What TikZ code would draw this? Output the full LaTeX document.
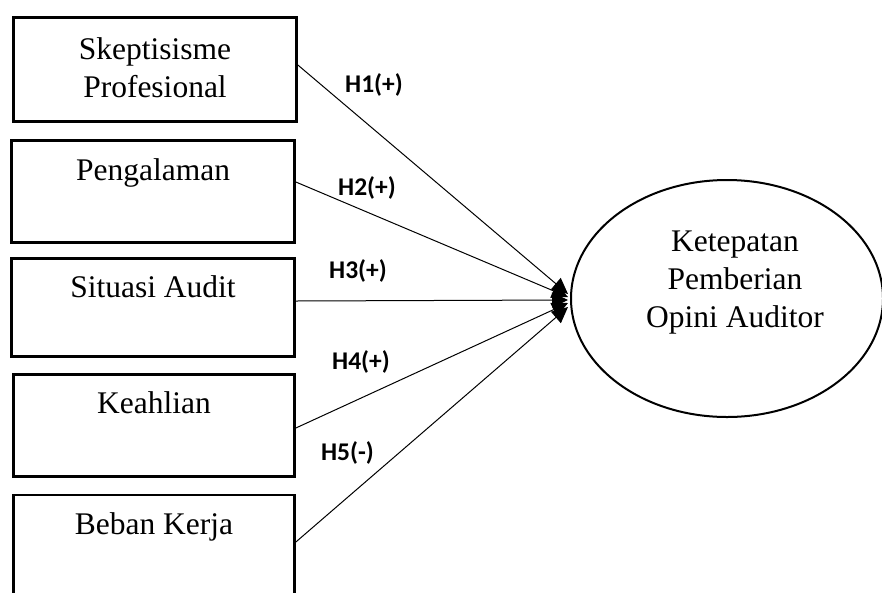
\documentclass[tikz,border=0pt]{standalone}
\usepackage{fontspec}
\setmainfont{Liberation Serif}
\newfontfamily\lblfont{Carlito}[BoldFont={Carlito Bold}]
\usetikzlibrary{arrows.meta,shapes.geometric}
\begin{document}
\begin{tikzpicture}[x=1pt,y=-1pt,
  box/.style={draw, line width=2.7pt, rectangle, minimum width=283pt, inner sep=0pt},
  btext/.style={font=\fontsize{31.5}{38}\selectfont, align=center, inner sep=0pt},
  hyp/.style={font=\lblfont\bfseries\fontsize{25.5}{30}\selectfont, inner sep=0pt},
  link/.style={line width=1pt, -{Triangle[length=16pt,width=15pt]}},
]
\useasboundingbox (0,0) rectangle (882,592);
\clip (0,0) rectangle (882,592);

% boxes
\node[box, minimum height=104pt] (b1) at (155,69.5) {};
\node[box, minimum height=102pt] (b2) at (153,191.5) {};
\node[box, minimum height=98pt] (b3) at (153,307.5) {};
\node[box, minimum width=281pt, minimum height=102pt] (b4) at (154,425.5) {};
\node[box, minimum width=281pt, minimum height=104pt] (b5) at (154,547) {};

% box texts
\node[btext] (t1) at (155,67.5) {Skeptisisme\\Profesional};
\node[btext, anchor=base] (t2) at (153,180) {Pengalaman};
\node[btext, anchor=base] (t3) at (153,297) {Situasi Audit};
\node[btext, anchor=base] (t4) at (154,413) {Keahlian};
\node[btext, anchor=base] (t5) at (154,534) {Beban Kerja};

% ellipse
\node[draw, ellipse, line width=2pt, minimum width=312pt, minimum height=237pt, inner sep=0pt] (e) at (727,298.5) {};
\node[btext] (et) at (735,283) {Ketepatan\\Pemberian\\Opini Auditor};

% connector ends
\coordinate (s1) at ([yshift=4.5pt]b1.east);
\coordinate (s2) at ([yshift=9.5pt]b2.east);
\coordinate (s3) at ([yshift=6.5pt]b3.east);
\coordinate (s4) at ([yshift=-2.5pt]b4.east);
\coordinate (s5) at ([yshift=5pt]b5.east);
\coordinate (p1) at ([shift={(-2pt,4.5pt)}]e.west);
\coordinate (p2) at ([shift={(-2pt,1.5pt)}]e.west);
\coordinate (p3) at ([shift={(-2pt,-1.5pt)}]e.west);
\coordinate (p4) at ([shift={(-2pt,-4.5pt)}]e.west);
\coordinate (p5) at ([shift={(-2pt,-8.5pt)}]e.west);

\draw[link] (s1) -- (p1);
\draw[link] (s2) -- (p2);
\draw[link] (s3) -- (p3);
\draw[link] (s4) -- (p4);
\draw[link] (s5) -- (p5);

% hypothesis labels
\node[hyp] (h1) at (374,85) {H1(+)};
\node[hyp] (h2) at (367,188) {H2(+)};
\node[hyp] (h3) at (358,271) {H3(+)};
\node[hyp] (h4) at (361,362) {H4(+)};
\node[hyp] (h5) at (347.5,453) {H5(-)};
\end{tikzpicture}
\end{document}
